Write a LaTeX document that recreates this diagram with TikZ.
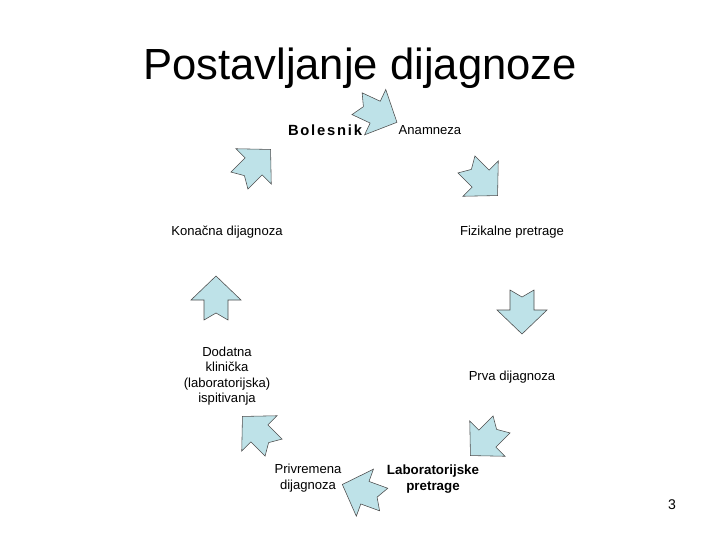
\documentclass[tikz,border=0pt]{standalone}
\usepackage{fontspec}
\setmainfont{Liberation Sans}
\definecolor{arrowblue}{RGB}{190,226,232}
\begin{document}
\begin{tikzpicture}[x=0.025cm,y=-0.025cm]
  \tikzset{blockarrow/.style={draw=black!70, fill=arrowblue, line width=0.4pt},
    lbl/.style={font=\fontsize{9.3}{11}\selectfont, align=center},
    pics/cyclearrow/.style={code={
      \path[blockarrow] (-22,-12) -- (-2,-12) -- (-2,-25) -- (22,0) -- (-2,25) -- (-2,12) -- (-22,12) -- (-15,0) -- cycle;}}}
  \useasboundingbox (0,0) rectangle (720,540);
  \node[font=\fontsize{31}{36}\selectfont] (title) at (360,68) {Postavljanje dijagnoze};
  % arrows round the cycle
  \pic[rotate=-25] (a1) at (377,113) {cyclearrow};
  \pic[rotate=-45] (a2) at (482,180) {cyclearrow};
  \pic[rotate=-90] (a3) at (522,312) {cyclearrow};
  \pic[rotate=-135] (a4) at (486,440) {cyclearrow};
  \pic[rotate=160] (a5) at (363,492) {cyclearrow};
  \pic[rotate=135] (a6) at (258,432) {cyclearrow};
  \pic[rotate=90] (a7) at (216,298) {cyclearrow};
  \pic[rotate=45] (a8) at (255,165) {cyclearrow};
  % labels
  \node[lbl, font=\fontsize{10.5}{12}\selectfont\bfseries\addfontfeature{LetterSpace=12}] (bolesnik) at (325,130) {Bolesnik};
  \node[lbl] (anamneza) at (430,130) {Anamneza};
  \node[lbl] (fizikalne) at (512,232) {Fizikalne pretrage};
  \node[lbl] (prva) at (512,377) {Prva dijagnoza};
  \node[lbl, font=\fontsize{9.5}{11}\selectfont\bfseries] (lab) at (433,479) {Laboratorijske\\pretrage};
  \node[lbl] (privremena) at (308,478) {Privremena\\dijagnoza};
  \node[lbl] (dodatna) at (227,376) {Dodatna\\klinička\\(laboratorijska)\\ispitivanja};
  \node[lbl] (konacna) at (227,232) {Konačna dijagnoza};
  \node[lbl, font=\fontsize{10}{12}\selectfont] (page) at (672,505) {3};
\end{tikzpicture}
\end{document}
